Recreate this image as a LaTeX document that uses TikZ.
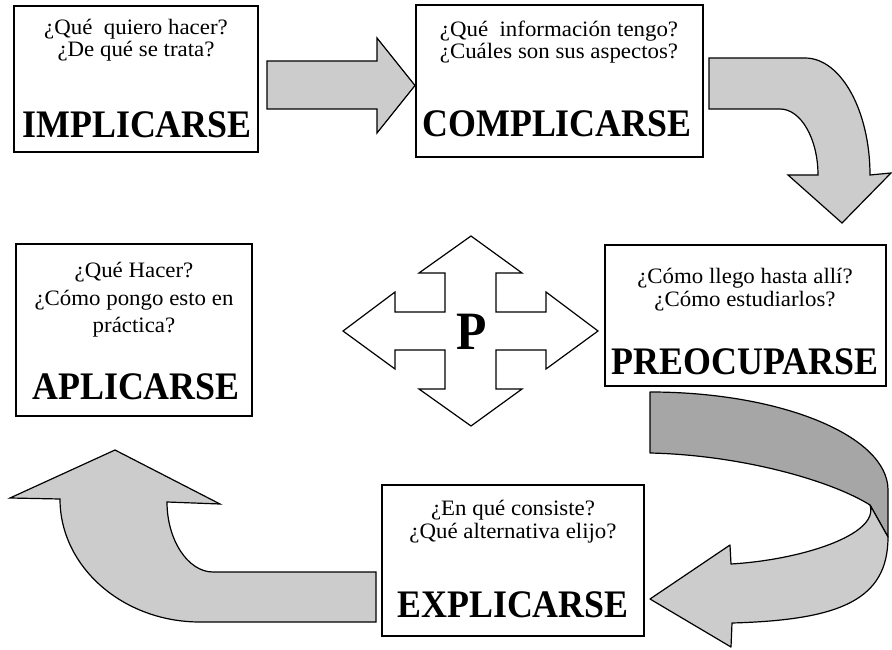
\documentclass[tikz,border=0pt]{standalone}
\usepackage{fontspec}
\setmainfont{Liberation Serif}
\newfontfamily\qfont{Liberation Serif}[FakeStretch=1.04]
\newfontfamily\tfont{Liberation Serif}[FakeStretch=0.92]
\begin{document}
\begin{tikzpicture}[x=1pt,y=-1pt,
  box/.style={draw, line width=1.3pt, rectangle, inner sep=0pt, fill=white},
  qtext/.style={font=\qfont\fontsize{22}{26}\selectfont, anchor=base, inner sep=0pt},
  ttext/.style={font=\tfont\bfseries\fontsize{39}{44}\selectfont, anchor=base, inner sep=0pt},
  blockarrow/.style={draw, line width=1.2pt, line join=miter, fill=black!20},
  darkband/.style={draw, line width=1.2pt, line join=round, fill=black!35},
  cross/.style={draw, line width=1.2pt, line join=miter, fill=white}]
\useasboundingbox (0,0) rectangle (892,650);

% boxes
\node[box, minimum width=244pt, minimum height=146pt] (b1) at (136,79) {};
\node[box, minimum width=287pt, minimum height=152pt] (b2) at (559.5,81) {};
\node[box, minimum width=281pt, minimum height=141pt] (b3) at (745.5,315.5) {};
\node[box, minimum width=262pt, minimum height=151pt] (b4) at (513,560.5) {};
\node[box, minimum width=236pt, minimum height=172pt] (b5) at (134,330) {};

% texts box 1
\node[qtext] (t1a) at (136,35) {¿Qué\ \ quiero hacer?};
\node[qtext] (t1b) at (136,57) {¿De qué se trata?};
\node[ttext] (t1c) at (137,138) {IMPLICARSE};
% box 2
\node[qtext] (t2a) at (559,37) {¿Qué\ \ información tengo?};
\node[qtext] (t2b) at (559,59) {¿Cuáles son sus aspectos?};
\node[ttext] (t2c) at (557,137) {COMPLICARSE};
% box 3
\node[qtext] (t3a) at (745,283) {¿Cómo llego hasta allí?};
\node[qtext] (t3b) at (745,306) {¿Cómo estudiarlos?};
\node[ttext] (t3c) at (745,374) {PREOCUPARSE};
% box 4
\node[qtext] (t4a) at (513,515) {¿En qué consiste?};
\node[qtext] (t4b) at (513,538) {¿Qué alternativa elijo?};
\node[ttext] (t4c) at (513,617) {EXPLICARSE};
% box 5
\node[qtext] (t5a) at (134,277) {¿Qué Hacer?};
\node[qtext] (t5b) at (134,305) {¿Cómo pongo esto en};
\node[qtext] (t5c) at (134,332) {práctica?};
\node[ttext] (t5d) at (136,399) {APLICARSE};

% arrow 1 -> 2
\draw[blockarrow] (267,61) -- (377,61) -- (377,38) -- (415,85.5) -- (377,133) -- (377,109) -- (267,109) -- cycle;

% curved arrow 2 -> 3
\draw[blockarrow] (709,58) -- (805,58) .. controls (841,58) and (870,111) .. (870,175)
  -- (891,173) -- (842,223) -- (788,175) -- (818,175)
  .. controls (818,139) and (801,109) .. (780,109) -- (709,109) -- cycle;

% ribbon arrow 3 -> 4
\draw[darkband] (650,392) .. controls (781,392) and (888,436) .. (888,490)
  -- (888,537) -- (870,505) .. controls (830,480) and (740,455) .. (650,453) -- cycle;
\draw[blockarrow, line join=round] (870,505) -- (888,537) .. controls (888,600) and (840,620) .. (732,623)
  -- (731,647) -- (650,599) -- (730,545) -- (731,564)
  .. controls (800,560) and (880,535) .. (870,505) -- cycle;

% curved arrow 4 -> 5
\draw[blockarrow] (376,572) -- (213,572) .. controls (188,572) and (167,540) .. (167,502)
  -- (220,504) -- (115,450) -- (10,498) -- (60,499)
  .. controls (60,567) and (123,622) .. (200,622) -- (376,622) -- cycle;

% four-way arrow
\draw[cross] (471,236) -- (522,273) -- (496,273) -- (496,312) -- (546,312) -- (546,292)
  -- (598,331) -- (546,369) -- (546,350) -- (496,350) -- (496,389) -- (522,389)
  -- (471,426) -- (419,389) -- (445,389) -- (445,350) -- (395,350) -- (395,369)
  -- (343,331) -- (395,292) -- (395,312) -- (445,312) -- (445,273) -- (419,273) -- cycle;
\node[font=\tfont\bfseries\fontsize{54}{60}\selectfont, anchor=base, inner sep=0pt] (p) at (472,349) {P};
\end{tikzpicture}
\end{document}
